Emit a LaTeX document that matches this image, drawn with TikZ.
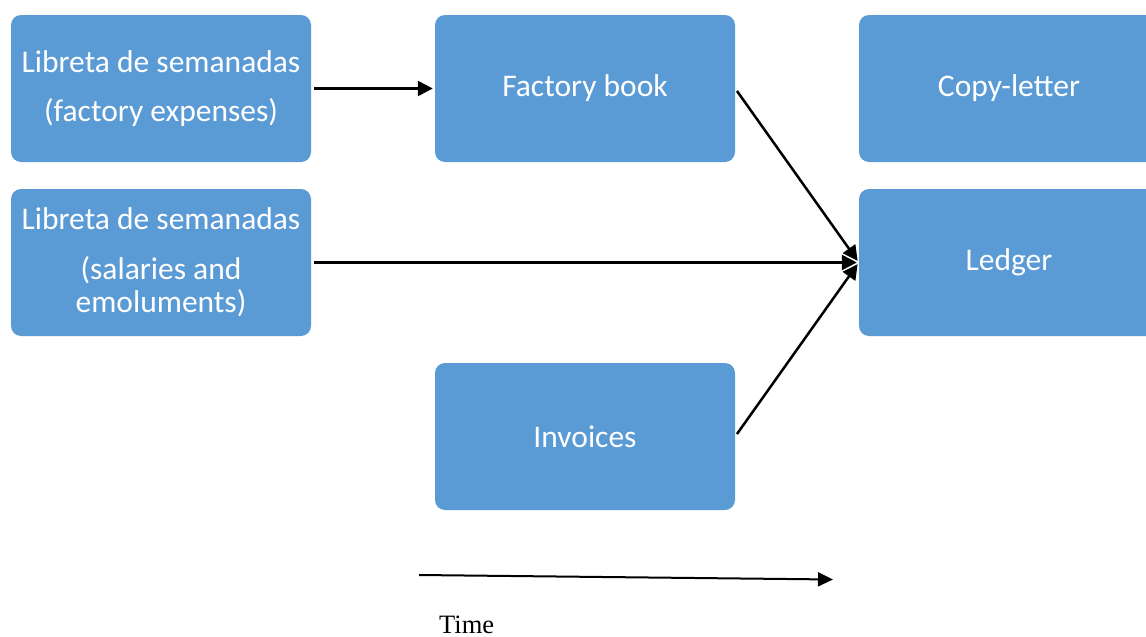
\documentclass[tikz,border=0pt]{standalone}
\usepackage{fontspec}
\setmainfont{Carlito}
\newfontfamily\timefont{Liberation Serif}
\usetikzlibrary{arrows.meta}
\definecolor{boxblue}{HTML}{5B9BD5}
\tikzset{
  book/.style={fill=boxblue, draw=none, rounded corners=10pt,
    minimum width=300pt, minimum height=147pt, inner sep=0pt,
    text=white, align=center, font=\fontsize{31.5}{33}\selectfont},
  flow/.style={draw=black, line width=2.5pt, -{Triangle[length=15pt,width=15pt]},
    shorten <=3pt, shorten >=2pt},
}
\begin{document}
\begin{tikzpicture}[x=1pt, y=-1pt]
  \useasboundingbox (0,0) rectangle (1146,637);
  \clip (0,0) rectangle (1146,637);

  \node[book] (weekly) at (161,88.5) {Libreta de semanadas\\[16pt](factory expenses)};
  \node[book] (wages) at (161,262.5) {Libreta de semanadas\\[17pt](salaries and\\emoluments)};
  \node[book] (factory) at (585,88.5) {Factory book};
  \node[book] (invoices) at (585,436.5) {Invoices};
  \node[book] (copy) at (1009,88.5) {Copy-letter};
  \node[book] (ledger) at (1009,262.5) {Ledger};

  \draw[flow] (weekly.east) -- (factory.west);
  \draw[flow] (factory.east) -- (ledger.west);
  \draw[flow] (wages.east) -- (ledger.west);
  \draw[flow] (invoices.east) -- (ledger.west);

  \coordinate (tstart) at (419,575);
  \coordinate (tend) at (833,579.5);
  \draw[line width=2pt, -{Triangle[length=15pt,width=14pt]}] (tstart) -- (tend);
  \node[anchor=base west, inner sep=0pt, font=\timefont\fontsize{26.5}{30}\selectfont] (time) at (439,633) {Time};
\end{tikzpicture}
\end{document}
